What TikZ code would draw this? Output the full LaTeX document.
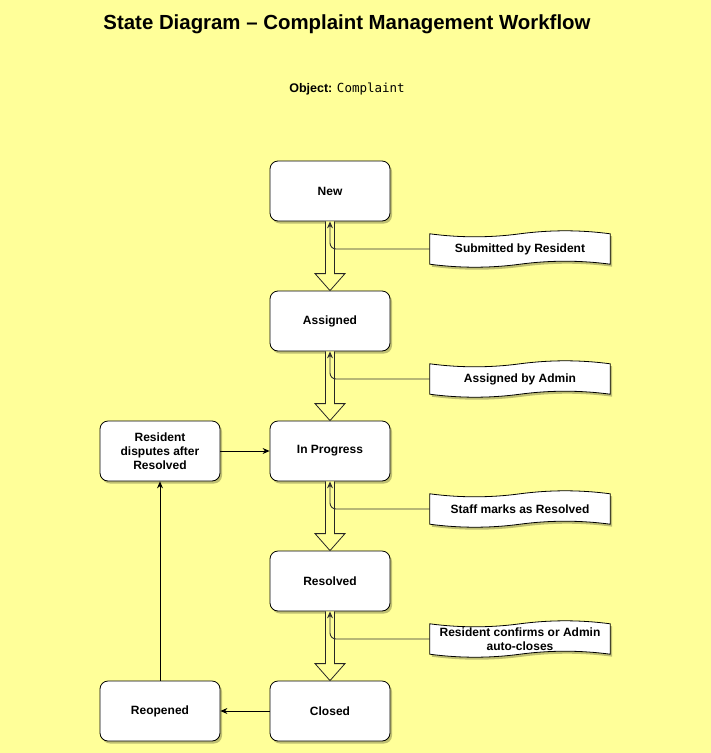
\documentclass[tikz,border=0pt]{standalone}
\usepackage{fontspec}
\setmainfont{Liberation Sans}
\setmonofont{DejaVu Sans Mono}
\usetikzlibrary{calc,arrows.meta,shadows}
\pgfdeclarelayer{background}
\pgfsetlayers{background,main}
\definecolor{bgyellow}{HTML}{FFFF99}
\tikzset{
  x=1pt, y=-1pt,
  state/.style={draw=black, fill=white, rounded corners=8pt, minimum width=120pt,
    minimum height=60pt, align=center, line width=0.8pt,
    font=\bfseries\fontsize{12}{14}\selectfont,
    drop shadow={shadow xshift=2pt, shadow yshift=-2.5pt, opacity=0.25, fill=black}},
  notetext/.style={draw=none, minimum width=180pt, minimum height=30pt, align=center,
    font=\bfseries\fontsize{12}{14.5}\selectfont, inner sep=0pt},
  tapestyle/.style={draw=black, fill=white, line width=0.8pt,
    drop shadow={shadow xshift=2pt, shadow yshift=-2.5pt, opacity=0.25, fill=black}},
  blockarr/.style={draw=black!85, fill=bgyellow, line width=0.8pt, line join=miter},
  conn/.style={draw=black!80, line width=0.9pt, rounded corners=6pt,
    -{Stealth[length=7pt,width=6pt]}},
  plain/.style={draw=black, line width=0.8pt, -{Stealth[length=7pt,width=6pt]}},
}
\newcommand\tapeshape[1]{%
  \begin{pgfonlayer}{background}
  \draw[tapestyle] (#1.north west) .. controls +(30,4) and +(-30,4) .. (#1.north)
     .. controls +(30,-4) and +(-30,-4) .. (#1.north east) -- (#1.south east)
     .. controls +(-30,-4) and +(30,-4) .. (#1.south)
     .. controls +(-30,4) and +(30,4) .. (#1.south west) -- cycle;
  \end{pgfonlayer}}
\newcommand\blockarrow[2]{%
  \filldraw[blockarr] ($(#1.south)+(-4.5,0)$) -- ($(#2.north)+(-4.5,-17)$)
    -- ($(#2.north)+(-15,-17)$) -- (#2.north) -- ($(#2.north)+(15,-17)$)
    -- ($(#2.north)+(4.5,-17)$) -- ($(#1.south)+(4.5,0)$);}
\begin{document}
\begin{tikzpicture}
\begin{pgfonlayer}{background}
\fill[bgyellow] (0,0) rectangle (711,753);
\end{pgfonlayer}
\useasboundingbox (0,0) rectangle (711,753);

\node[font=\bfseries\fontsize{20.4}{22}\selectfont] (title) at (347,24)
  {State Diagram – Complaint Management Workflow};
\node[font=\fontsize{12.5}{14}\selectfont] (obj) at (347,89)
  {\textbf{Object:} \texttt{Complaint}};

\node[state] (new) at (330,191) {New};
\node[state] (assigned) at (330,321) {Assigned};
\node[state] (inprog) at (330,451) {In Progress};
\node[state] (resolved) at (330,581) {Resolved};
\node[state] (closed) at (330,711) {Closed};
\node[state] (dispute) at (160,451) {Resident\\disputes after\\Resolved};
\node[state] (reopened) at (160,711) {Reopened};

\node[notetext] (n1) at (520,249) {Submitted by Resident};
\node[notetext] (n2) at (520,379) {Assigned by Admin};
\node[notetext] (n3) at (520,509) {Staff marks as Resolved};
\node[notetext] (n4) at (520,639) {Resident confirms or Admin\\auto-closes};
\tapeshape{n1}
\tapeshape{n2}
\tapeshape{n3}
\tapeshape{n4}

\blockarrow{new}{assigned}
\blockarrow{assigned}{inprog}
\blockarrow{inprog}{resolved}
\blockarrow{resolved}{closed}

\draw[conn] (n1.west) -| (new.south);
\draw[conn] (n2.west) -| (assigned.south);
\draw[conn] (n3.west) -| (inprog.south);
\draw[conn] (n4.west) -| (resolved.south);

\draw[plain] (dispute) -- (inprog);
\draw[plain] (closed) -- (reopened);
\draw[plain] (reopened) -- (dispute);
\end{tikzpicture}
\end{document}
